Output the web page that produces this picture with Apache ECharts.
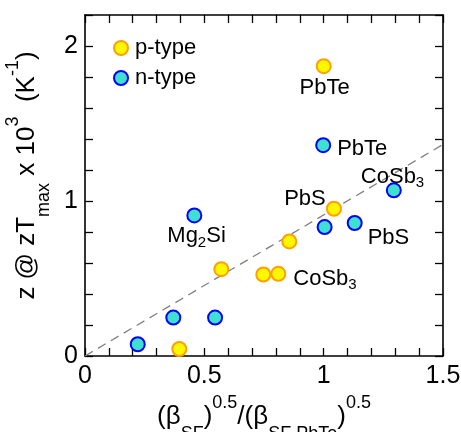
<!DOCTYPE html>
<html>
<head>
<meta charset="utf-8">
<script src="https://cdn.jsdelivr.net/npm/echarts@6/dist/echarts.min.js"></script>
<style>
  html, body { margin: 0; padding: 0; background: #fff; }
  #chart { width: 461px; height: 432px; }
</style>
</head>
<body>
<div id="chart"></div>
<script>
// p-type materials
const pX = [1.0, 1.043, 0.856, 0.571, 0.747, 0.810, 0.395];
const pY = [1.87, 0.95, 0.739, 0.56, 0.526, 0.53, 0.045];
const pNames = ['PbTe', 'PbS', '', '', '', 'CoSb{s|3}', ''];

// n-type materials
const nX = [0.998, 1.294, 1.004, 1.130, 0.458, 0.370, 0.545, 0.221];
const nY = [1.36, 1.069, 0.832, 0.858, 0.907, 0.248, 0.248, 0.076];
const nNames = ['PbTe', 'CoSb{s|3}', '', 'PbS', 'Mg{s|2}Si', '', '', ''];

// dashed trend line through the origin
const fitX = [0, 1.5];
const fitY = [0, 1.365];

// labelled ticks
const xTickLabels = [0, 0.5, 1, 1.5];
const yTickLabels = [0, 1, 2];

// label placement (pixel offsets from each marker centre)
const pLabelPos = {
  0: { offset: [1, 22], align: 'center' },
  1: { offset: [-29, -10], align: 'center' },
  5: { offset: [15, 5], align: 'left' }
};
const nLabelPos = {
  0: { offset: [14, 4], align: 'left' },
  1: { offset: [-33, -13], align: 'left' },
  3: { offset: [13, 15], align: 'left' },
  4: { offset: [-27, 21], align: 'left' }
};

const FONT = '"Liberation Sans", Arial, Helvetica, sans-serif';
const subRich = { s: { fontSize: 15, fontFamily: FONT, color: '#000', padding: [12, 0, 0, 0] } };
const titleRich = {
  sub: { fontSize: 18, fontFamily: FONT, color: '#000', padding: [34, 0, 0, 0] },
  sup: { fontSize: 18, fontFamily: FONT, color: '#000', padding: [0, 0, 28, 0] }
};

function points(xs, ys, names, posMap) {
  return xs.map((x, i) => {
    const item = { value: [x, ys[i]] };
    if (names[i]) {
      const pos = posMap[i];
      item.label = {
        show: true,
        position: 'inside',
        offset: pos.offset,
        align: pos.align,
        verticalAlign: 'middle',
        formatter: names[i],
        fontSize: 22,
        fontFamily: FONT,
        color: '#000',
        rich: subRich
      };
    }
    return item;
  });
}

function onTick(v, list) {
  return list.some(t => Math.abs(v - t) < 1e-6);
}

const frame = { show: true, onZero: false, lineStyle: { color: '#000', width: 1.6 } };
const ticks = { show: true, inside: true, length: 8, lineStyle: { color: '#000', width: 1.3 } };

const chart = echarts.init(document.getElementById('chart'));
chart.setOption({
  animation: false,
  backgroundColor: '#fff',
  grid: { left: 85, right: 18, top: 15, bottom: 76, containLabel: false, outerBoundsMode: 'none' },
  legend: {
    left: 108, top: 32, orient: 'vertical', itemGap: 8,
    itemWidth: 14, itemHeight: 14,
    textStyle: { fontSize: 22, fontFamily: FONT, color: '#000', padding: [0, 0, 0, 2] },
    data: [{ name: 'p-type', icon: 'circle' }, { name: 'n-type', icon: 'circle' }]
  },
  xAxis: [
    {
      type: 'value', min: 0, max: 1.5, interval: 0.1, position: 'bottom',
      axisLine: frame, axisTick: ticks, splitLine: { show: false },
      axisLabel: {
        fontSize: 25, fontFamily: FONT, color: '#000', margin: 8,
        formatter: v => onTick(v, xTickLabels) ? String(Math.round(v * 10) / 10) : ''
      },
      name: '(β{sub|SF}){sup|0.5}/(β{sub|SF PbTe}){sup|0.5}',
      nameLocation: 'middle', nameGap: 30,
      nameTextStyle: { fontSize: 26, fontFamily: FONT, color: '#000', rich: titleRich }
    },
    {
      type: 'value', min: 0, max: 1.5, interval: 0.1, position: 'top',
      axisLine: frame, axisTick: ticks, axisLabel: { show: false }, splitLine: { show: false }
    }
  ],
  yAxis: [
    {
      type: 'value', min: 0, max: 2.2, interval: 0.2, position: 'left',
      axisLine: frame, axisTick: ticks, splitLine: { show: false },
      axisLabel: {
        fontSize: 25, fontFamily: FONT, color: '#000', margin: 7,
        formatter: v => onTick(v, yTickLabels) ? String(Math.round(v)) : ''
      },
      name: 'z @ zT{sub|max} x 10{sup|3}  (K{sup|-1})',
      nameLocation: 'middle', nameGap: 26, nameRotate: 90,
      nameTextStyle: {
        fontSize: 26, fontFamily: FONT, color: '#000',
        padding: [0, 0, 0, 20], rich: titleRich
      }
    },
    {
      type: 'value', min: 0, max: 2.2, interval: 0.2, position: 'right',
      axisLine: frame, axisTick: ticks, axisLabel: { show: false }, splitLine: { show: false }
    }
  ],
  series: [
    {
      name: 'fit', type: 'line', xAxisIndex: 0, yAxisIndex: 0,
      data: fitX.map((x, i) => [x, fitY[i]]),
      showSymbol: false, silent: true,
      lineStyle: { color: '#808080', width: 1.3, type: [9, 6] },
      z: 1
    },
    {
      name: 'p-type', type: 'scatter', xAxisIndex: 0, yAxisIndex: 0,
      data: points(pX, pY, pNames, pLabelPos),
      symbol: 'circle', symbolSize: 14,
      itemStyle: { color: '#FFF700', borderColor: '#FFA000', borderWidth: 2, opacity: 1 },
      z: 3
    },
    {
      name: 'n-type', type: 'scatter', xAxisIndex: 0, yAxisIndex: 0,
      data: points(nX, nY, nNames, nLabelPos),
      symbol: 'circle', symbolSize: 14,
      itemStyle: { color: '#40E0D0', borderColor: '#0000FF', borderWidth: 2, opacity: 1 },
      z: 3
    }
  ]
});
</script>
</body>
</html>
